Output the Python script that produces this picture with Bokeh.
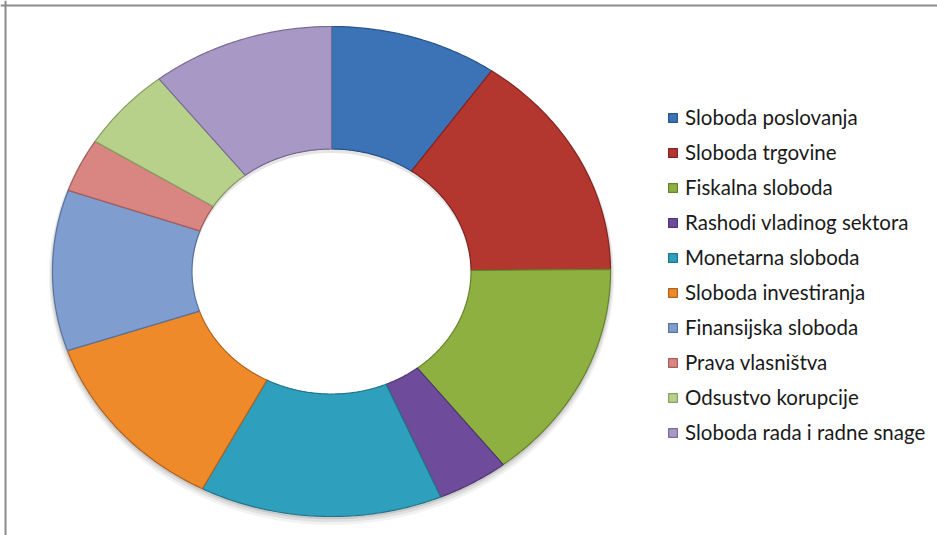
import numpy as np
from bokeh.plotting import figure
from bokeh.models import Range1d, Span, Legend, LegendItem, ColumnDataSource
from bokeh.embed import file_html
from bokeh.resources import INLINE

# ---- data ----
categories = [
    "Sloboda poslovanja",
    "Sloboda trgovine",
    "Fiskalna sloboda",
    "Rashodi vladinog sektora",
    "Monetarna sloboda",
    "Sloboda investiranja",
    "Finansijska sloboda",
    "Prava vlasništva",
    "Odsustvo korupcije",
    "Sloboda rada i radne snage",
]
values = [55.0, 85.6, 82.5, 23.5, 79.5, 68.5, 60.0, 20.0, 31.0, 60.0]
colors = ["#3b73b6", "#b3362f", "#8db041", "#6f4c9b", "#2f9fbe",
          "#ef8a2b", "#809dd0", "#d98683", "#b7d18b", "#a898c6"]
edge_colors = ["#28558c", "#842521", "#66822c", "#4f3672", "#217489",
               "#b0621c", "#5873a0", "#a45e5c", "#88a062", "#7a6c96"]

# ---- layout ----
W, H = 937, 535
cx, cy = 331, 264          # donut centre (data units = pixels)
rx, ry = 279, 245          # outer radii (elliptical)
hole = 0.5                 # inner radius as a share of outer

p = figure(width=W, height=H, output_backend="svg", toolbar_location=None,
           x_range=Range1d(0, W), y_range=Range1d(0, H), min_border=0)
p.axis.visible = False
p.grid.visible = False
p.outline_line_color = None
p.background_fill_color = "white"
p.border_fill_color = "white"

# frame lines (top & left only, as in the reference)
p.add_layout(Span(location=5, dimension="height", line_color="#8c8c8c", line_width=2))
p.add_layout(Span(location=H - 5, dimension="width", line_color="#8c8c8c", line_width=2))

vals = np.array(values, dtype=float)
frac = vals / vals.sum()
cum = np.concatenate([[0.0], np.cumsum(frac)])


def ang(f):
    return np.pi / 2 - 2 * np.pi * f


# soft outer shadow
t = np.linspace(0, 2 * np.pi, 240)
for k, a in [(6, 0.05), (4, 0.07), (2, 0.10)]:
    p.patch(cx + (rx + k * 0.6) * np.cos(t), cy - k * 0.8 + (ry + k * 0.6) * np.sin(t),
            fill_color="#000000", fill_alpha=a, line_color=None)

xs, ys = [], []
for i in range(len(values)):
    a0, a1 = ang(cum[i]), ang(cum[i + 1])
    n = max(int(abs(a1 - a0) / 0.01), 8)
    ta = np.linspace(a0, a1, n)
    ox = cx + rx * np.cos(ta)
    oy = cy + ry * np.sin(ta)
    ix = cx + hole * rx * np.cos(ta[::-1])
    iy = cy + hole * ry * np.sin(ta[::-1])
    xs.append(np.concatenate([ox, ix]).tolist())
    ys.append(np.concatenate([oy, iy]).tolist())

# hole cover (keeps the shadow out of the hole)
p.patch(cx + hole * rx * np.cos(t), cy + hole * ry * np.sin(t),
        fill_color="white", line_color=None)

src = ColumnDataSource(dict(xs=xs, ys=ys, color=colors, edge=edge_colors, label=categories))
r = p.patches("xs", "ys", source=src, fill_color="color", line_color="edge",
              line_width=1.2)

# inner shadow cast into the hole (top side)
top = np.linspace(0, np.pi, 120)
sx = np.concatenate([cx + hole * rx * np.cos(top), (cx + hole * rx * np.cos(top))[::-1]])
sy = np.concatenate([cy + hole * ry * np.sin(top), (cy - 4 + hole * ry * np.sin(top))[::-1]])
p.patch(sx, sy, fill_color="#000000", fill_alpha=0.10, line_color=None)

legend = Legend(
    items=[LegendItem(label=c, renderers=[r], index=i) for i, c in enumerate(categories)],
    location=(667, 91),
    orientation="vertical",
    glyph_width=11, glyph_height=11,
    label_standoff=7,
    label_height=24,
    spacing=11,
    padding=0, margin=0,
    border_line_color=None,
    background_fill_alpha=0,
    label_text_font="Lato",
    label_text_font_size="20.5px",
    label_text_color="#1a1a1a",
)
p.add_layout(legend, "center")

open("out.html", "w").write(file_html(p, INLINE))
